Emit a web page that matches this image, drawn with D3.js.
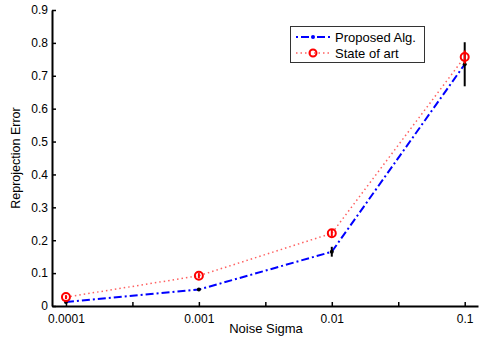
<!DOCTYPE html>
<html>
<head>
<meta charset="utf-8">
<script src="https://cdn.jsdelivr.net/npm/d3@7"></script>
<style>
  body { margin: 0; background: #fff; }
  text { font-family: "Liberation Sans", Arial, sans-serif; }
</style>
</head>
<body>
<div id="chart"></div>
<script>
// data
var sigmas = ["0.0001", "0.001", "0.01", "0.1"];
var proposed = [0.012, 0.05, 0.165, 0.735];
var proposedErr = [0.003, 0.004, 0.015, 0.067];
var stateOfArt = [0.027, 0.092, 0.221, 0.757];
var stateErr = [0.006, 0.008, 0.01, 0.02];
var yTicks = [0, 0.1, 0.2, 0.3, 0.4, 0.5, 0.6, 0.7, 0.8, 0.9];
var xTicks = [1, 1.5, 2, 2.5, 3, 3.5, 4];

var width = 479, height = 341;
var margin = { left: 52, right: 1, top: 10, bottom: 35 };

var svg = d3.select("#chart").append("svg")
  .attr("width", width)
  .attr("height", height);

var x = d3.scaleLinear().domain([0.895, 4.1]).range([margin.left, width - margin.right]);
var y = d3.scaleLinear().domain([0, 0.9]).range([height - margin.bottom, margin.top]);

// axes
var xAxis = svg.append("g")
  .attr("transform", "translate(0," + y(0) + ")")
  .call(d3.axisBottom(x).tickValues(xTicks).tickSizeInner(-4).tickSizeOuter(0)
    .tickFormat(function(d) { return Number.isInteger(d) ? sigmas[d - 1] : ""; }));
xAxis.select(".domain").attr("stroke-width", 2);
xAxis.selectAll(".tick line").attr("stroke-width", 1.5);
xAxis.selectAll("text").attr("dy", "0").attr("y", 17).attr("font-size", 12).attr("fill", "#000");

var yAxis = svg.append("g")
  .attr("transform", "translate(" + x.range()[0] + ",0)")
  .call(d3.axisLeft(y).tickValues(yTicks).tickSizeInner(-4).tickSizeOuter(0)
    .tickFormat(function(d) { return d === 0 ? "0" : d3.format(".1f")(d); }));
yAxis.select(".domain").attr("stroke-width", 2);
yAxis.selectAll(".tick line").attr("stroke-width", 1.5);
yAxis.selectAll("text").attr("x", -4).attr("font-size", 12).attr("fill", "#000");

// axis labels
svg.append("text")
  .attr("x", 266).attr("y", 333)
  .attr("text-anchor", "middle")
  .attr("font-size", 13)
  .text("Noise Sigma");

svg.append("text")
  .attr("transform", "translate(20,158) rotate(-90)")
  .attr("text-anchor", "middle")
  .attr("font-size", 12.5)
  .text("Reprojection Error");

var line = d3.line()
  .x(function(d, i) { return x(i + 1); })
  .y(function(d) { return y(d); });

// state of art
svg.append("path")
  .datum(stateOfArt)
  .attr("d", line)
  .attr("fill", "none")
  .attr("stroke", "#ff6060")
  .attr("stroke-width", 1.5)
  .attr("stroke-dasharray", "1.5,3");

// proposed
svg.append("path")
  .datum(proposed)
  .attr("d", line)
  .attr("fill", "none")
  .attr("stroke", "#0000ff")
  .attr("stroke-width", 2)
  .attr("stroke-dasharray", "8,3,2,3");

// error bars proposed
svg.selectAll(".errP")
  .data(proposed)
  .enter().append("line")
  .attr("x1", function(d, i) { return x(i + 1); })
  .attr("x2", function(d, i) { return x(i + 1); })
  .attr("y1", function(d, i) { return y(d - proposedErr[i]); })
  .attr("y2", function(d, i) { return y(d + proposedErr[i]); })
  .attr("stroke", "#000")
  .attr("stroke-width", 2);

svg.selectAll(".dotP")
  .data(proposed)
  .enter().append("circle")
  .attr("cx", function(d, i) { return x(i + 1); })
  .attr("cy", function(d) { return y(d); })
  .attr("r", 2)
  .attr("fill", "#000");

// error bars state of art
svg.selectAll(".errS")
  .data(stateOfArt)
  .enter().append("line")
  .attr("x1", function(d, i) { return x(i + 1); })
  .attr("x2", function(d, i) { return x(i + 1); })
  .attr("y1", function(d, i) { return y(d - stateErr[i]); })
  .attr("y2", function(d, i) { return y(d + stateErr[i]); })
  .attr("stroke", "#ff0000")
  .attr("stroke-width", 2);

svg.selectAll(".dotS")
  .data(stateOfArt)
  .enter().append("circle")
  .attr("cx", function(d, i) { return x(i + 1); })
  .attr("cy", function(d) { return y(d); })
  .attr("r", 4)
  .attr("fill", "none")
  .attr("stroke", "#ff0000")
  .attr("stroke-width", 2);

// legend
var legend = svg.append("g");
legend.append("rect")
  .attr("x", 290.5).attr("y", 26.5)
  .attr("width", 134).attr("height", 36)
  .attr("fill", "#fff")
  .attr("stroke", "#333")
  .attr("stroke-width", 1);

legend.append("line")
  .attr("x1", 296).attr("x2", 330).attr("y1", 37).attr("y2", 37)
  .attr("stroke", "#0000ff").attr("stroke-width", 2)
  .attr("stroke-dasharray", "2,3,8,3");
legend.append("circle").attr("cx", 313).attr("cy", 37).attr("r", 2).attr("fill", "#0000ff");
legend.append("text").attr("x", 335).attr("y", 41.5).attr("font-size", 13).text("Proposed Alg.");

legend.append("line")
  .attr("x1", 296).attr("x2", 330).attr("y1", 53).attr("y2", 53)
  .attr("stroke", "#ff6060").attr("stroke-width", 1.5)
  .attr("stroke-dasharray", "1.5,3");
legend.append("circle").attr("cx", 313).attr("cy", 53).attr("r", 3.5)
  .attr("fill", "none").attr("stroke", "#ff0000").attr("stroke-width", 2);
legend.append("text").attr("x", 335).attr("y", 57.5).attr("font-size", 13).text("State of art");
</script>
</body>
</html>
